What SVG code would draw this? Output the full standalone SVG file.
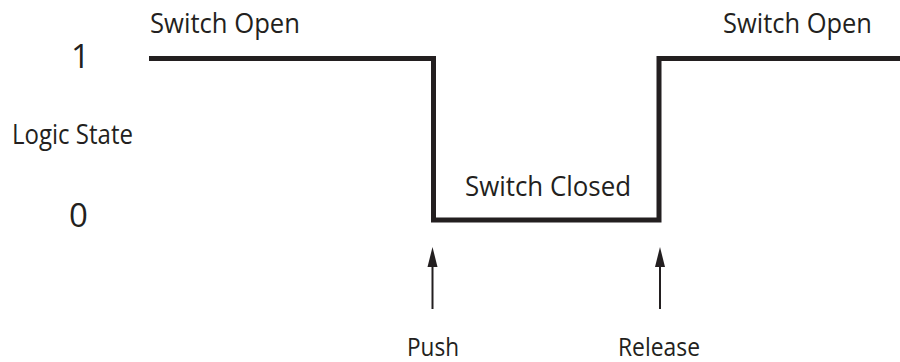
<svg xmlns="http://www.w3.org/2000/svg" width="900" height="362" viewBox="0 0 900 362">
<style>
text{font-family:"Open Sans","Noto Sans","Liberation Sans",sans-serif;fill:#231f20;}
.lbl{font-size:27px;}
.bot{font-size:25px;}
.dig{font-size:33px;}
.wave{fill:none;stroke:#231f20;stroke-width:5;stroke-linejoin:miter;stroke-linecap:butt;}
.arr{stroke:#231f20;stroke-width:2;fill:none;}
.head{fill:#231f20;}
</style>
<g id="connectors">
<path class="wave" d="M149,58.5 H433.5 V220 H659 V58.5 H900"/>
<line class="arr" x1="432.5" y1="309" x2="432.5" y2="262"/>
<polygon class="head" points="432.5,247 437.5,267 427.5,267"/>
<line class="arr" x1="660" y1="309" x2="660" y2="262"/>
<polygon class="head" points="660,247 665,267 655,267"/>
</g>
<g id="label-open-left"><text class="lbl" x="150" y="33" textLength="150" lengthAdjust="spacingAndGlyphs">Switch Open</text></g>
<g id="label-open-right"><text class="lbl" x="723" y="33" textLength="149" lengthAdjust="spacingAndGlyphs">Switch Open</text></g>
<g id="label-closed"><text class="lbl" x="465" y="196" textLength="166" lengthAdjust="spacingAndGlyphs">Switch Closed</text></g>
<g id="label-one"><text class="dig" x="71" y="68">1</text></g>
<g id="label-zero"><text class="dig" x="69" y="227">0</text></g>
<g id="label-logic"><text class="lbl" x="12" y="144" textLength="121" lengthAdjust="spacingAndGlyphs">Logic State</text></g>
<g id="label-push"><text class="bot" x="407" y="356" textLength="52" lengthAdjust="spacingAndGlyphs">Push</text></g>
<g id="label-release"><text class="bot" x="618" y="356" textLength="82" lengthAdjust="spacingAndGlyphs">Release</text></g>
</svg>
